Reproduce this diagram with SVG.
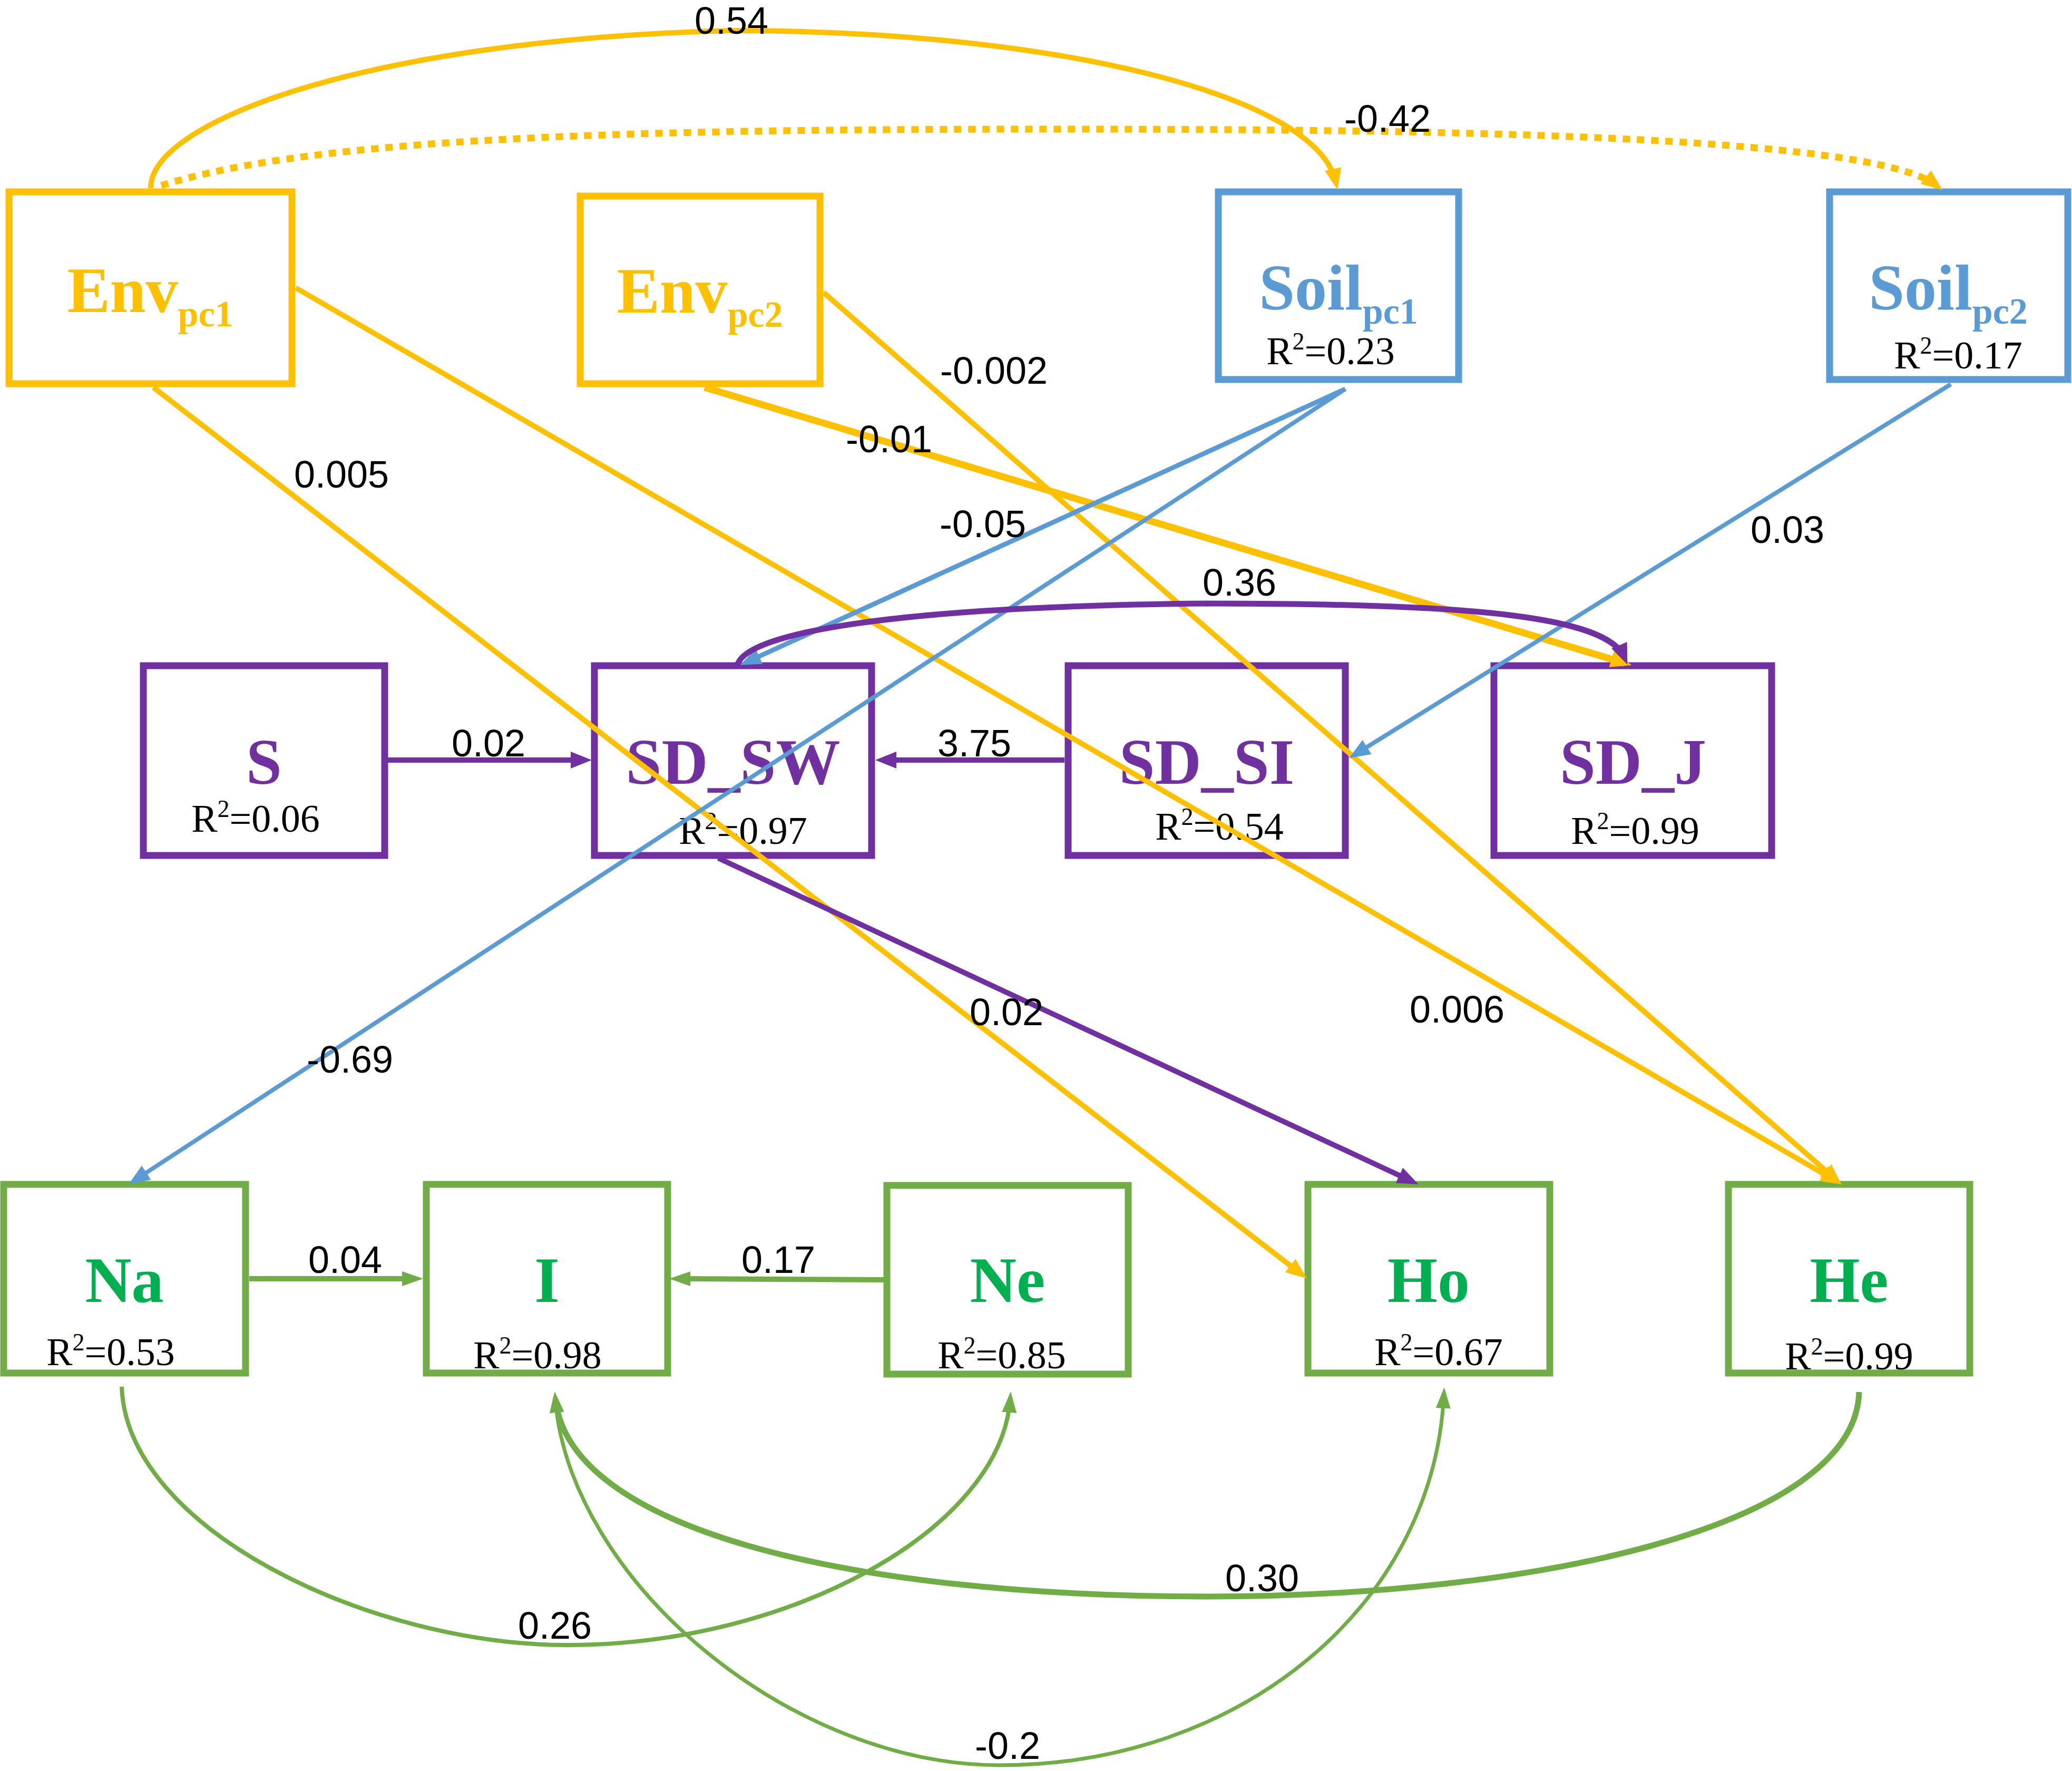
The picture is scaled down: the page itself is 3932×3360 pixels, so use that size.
<svg xmlns="http://www.w3.org/2000/svg" width="3932" height="3360" viewBox="0 0 3932 3360">
<style>
.box{fill:#fff;stroke-width:13}
.y{stroke:#FFC000}.b{stroke:#5B9BD5}.p{stroke:#7030A0}.g{stroke:#70AD47}
.lbl{font-family:"Liberation Serif","Times New Roman",serif;font-weight:bold;font-size:122px;text-anchor:middle}
.r2{font-family:"Liberation Serif","Times New Roman",serif;font-size:74px;fill:#000;text-anchor:middle}
.el{font-family:"Liberation Sans",Arial,sans-serif;font-size:72px;fill:#000;text-anchor:middle}
.c{fill:none}
</style>
<defs>
<marker id="ay" markerUnits="userSpaceOnUse" markerWidth="44" markerHeight="36" refX="26" refY="16" orient="auto"><path d="M0,0 L40,16 L0,32 z" fill="#FFC000"/></marker>
<marker id="ab" markerUnits="userSpaceOnUse" markerWidth="44" markerHeight="36" refX="26" refY="16" orient="auto"><path d="M0,0 L40,16 L0,32 z" fill="#5B9BD5"/></marker>
<marker id="ap" markerUnits="userSpaceOnUse" markerWidth="44" markerHeight="36" refX="26" refY="16" orient="auto"><path d="M0,0 L40,16 L0,32 z" fill="#7030A0"/></marker>
<marker id="ag" markerUnits="userSpaceOnUse" markerWidth="44" markerHeight="32" refX="26" refY="14" orient="auto"><path d="M0,0 L40,14 L0,28 z" fill="#70AD47"/></marker>
</defs>
<rect width="3932" height="3360" fill="#fff"/>

<g id="node-envpc1"><rect class="box y" x="17" y="364" width="537" height="364"/><text class="lbl" fill="#FFC000" x="285" y="592">Env<tspan dy="27" font-size="70">pc1</tspan></text></g>
<g id="node-envpc2"><rect class="box y" x="1101" y="372" width="455" height="356"/><text class="lbl" fill="#FFC000" x="1328" y="593">Env<tspan dy="27" font-size="70">pc2</tspan></text></g>
<g id="node-soilpc1"><rect class="box b" x="2312" y="364" width="456" height="356"/><text class="lbl" fill="#5B9BD5" x="2540" y="587">Soil<tspan dy="27" font-size="70">pc1</tspan></text><text class="r2" x="2525" y="691">R<tspan dy="-28" font-size="46">2</tspan><tspan dy="28">=0.23</tspan></text></g>
<g id="node-soilpc2"><rect class="box b" x="3472" y="364" width="452" height="356"/><text class="lbl" fill="#5B9BD5" x="3697" y="587">Soil<tspan dy="27" font-size="70">pc2</tspan></text><text class="r2" x="3716" y="699">R<tspan dy="-28" font-size="46">2</tspan><tspan dy="28">=0.17</tspan></text></g>

<g id="node-s"><rect class="box p" x="272" y="1263" width="458" height="360"/><text class="lbl" fill="#7030A0" x="501" y="1487">S</text><text class="r2" x="485" y="1578">R<tspan dy="-28" font-size="46">2</tspan><tspan dy="28">=0.06</tspan></text></g>
<g id="node-sdsw"><rect class="box p" x="1128" y="1263" width="526" height="360"/><text class="lbl" fill="#7030A0" x="1391" y="1487">SD_SW</text><text class="r2" x="1410" y="1601">R<tspan dy="-28" font-size="46">2</tspan><tspan dy="28">=0.97</tspan></text></g>
<g id="node-sdsi"><rect class="box p" x="2027" y="1263" width="526" height="360"/><text class="lbl" fill="#7030A0" x="2290" y="1487">SD_SI</text><text class="r2" x="2314" y="1593">R<tspan dy="-28" font-size="46">2</tspan><tspan dy="28">=0.54</tspan></text></g>
<g id="node-sdj"><rect class="box p" x="2835" y="1263" width="527" height="360"/><text class="lbl" fill="#7030A0" x="3099" y="1487">SD_J</text><text class="r2" x="3103" y="1601">R<tspan dy="-28" font-size="46">2</tspan><tspan dy="28">=0.99</tspan></text></g>

<g id="node-na"><rect class="box g" x="7" y="2247" width="459" height="358"/><text class="lbl" fill="#00B050" x="236" y="2470">Na</text><text class="r2" x="210" y="2590">R<tspan dy="-28" font-size="46">2</tspan><tspan dy="28">=0.53</tspan></text></g>
<g id="node-i"><rect class="box g" x="809" y="2247" width="458" height="358"/><text class="lbl" fill="#00B050" x="1038" y="2470">I</text><text class="r2" x="1020" y="2596">R<tspan dy="-28" font-size="46">2</tspan><tspan dy="28">=0.98</tspan></text></g>
<g id="node-ne"><rect class="box g" x="1683" y="2249" width="458" height="358"/><text class="lbl" fill="#00B050" x="1912" y="2470">Ne</text><text class="r2" x="1901" y="2596">R<tspan dy="-28" font-size="46">2</tspan><tspan dy="28">=0.85</tspan></text></g>
<g id="node-ho"><rect class="box g" x="2482" y="2247" width="459" height="358"/><text class="lbl" fill="#00B050" x="2711" y="2470">Ho</text><text class="r2" x="2730" y="2590">R<tspan dy="-28" font-size="46">2</tspan><tspan dy="28">=0.67</tspan></text></g>
<g id="node-he"><rect class="box g" x="3280" y="2247" width="458" height="358"/><text class="lbl" fill="#00B050" x="3509" y="2470">He</text><text class="r2" x="3509" y="2598">R<tspan dy="-28" font-size="46">2</tspan><tspan dy="28">=0.99</tspan></text></g>

<g id="connectors">
<path class="c y" stroke-width="10" marker-end="url(#ay)" d="M286 357 C285 230 700 75 1390 58 C2000 58 2500 180 2535 346"/>
<path class="c y" stroke-width="13" stroke-dasharray="14 13" marker-end="url(#ay)" d="M306 352 C600 260 1200 245 2000 245 C2700 245 3550 255 3675 352"/>
<line class="y" stroke-width="10" marker-end="url(#ay)" x1="291" y1="735" x2="2469" y2="2417"/>
<line class="y" stroke-width="10" marker-end="url(#ay)" x1="561" y1="546" x2="3483" y2="2240"/>
<line class="y" stroke-width="10" marker-end="url(#ay)" x1="1563" y1="555" x2="3484" y2="2238"/>
<line class="y" stroke-width="13" marker-end="url(#ay)" x1="1337" y1="735" x2="3083" y2="1258"/>
<line class="b" stroke-width="9" marker-end="url(#ab)" x1="2553" y1="738" x2="1417" y2="1256"/>
<line class="b" stroke-width="8" marker-end="url(#ab)" x1="2553" y1="738" x2="256" y2="2239"/>
<line class="b" stroke-width="8" marker-end="url(#ab)" x1="3702" y1="729" x2="2572" y2="1431"/>
<line class="p" stroke-width="10" marker-end="url(#ap)" x1="736" y1="1442" x2="1109" y2="1442"/>
<line class="p" stroke-width="10" marker-end="url(#ap)" x1="2020" y1="1442" x2="1675" y2="1442"/>
<path class="c p" stroke-width="11" marker-end="url(#ap)" d="M1400 1260 C1420 1200 1700 1150 2300 1145 C2800 1145 3050 1170 3083 1248"/>
<line class="p" stroke-width="10" marker-end="url(#ap)" x1="1363" y1="1628" x2="2679" y2="2241"/>
<line class="g" stroke-width="10" marker-end="url(#ag)" x1="473" y1="2426" x2="789" y2="2426"/>
<line class="g" stroke-width="10" marker-end="url(#ag)" x1="1677" y1="2428" x2="1284" y2="2426"/>
<path class="c g" stroke-width="8" marker-end="url(#ag)" d="M231 2631 C240 2900 700 3121 1078 3121 C1500 3121 1900 2900 1917 2654"/>
<path class="c g" stroke-width="11" marker-end="url(#ag)" d="M3528 2641 C3520 2900 2900 3029 2295 3029 C1600 3029 1080 2900 1054 2654"/>
<path class="c g" stroke-width="7" marker-end="url(#ag)" d="M1053 2650 C1080 3000 1500 3349 1898 3349 C2350 3349 2720 3050 2740 2646"/>
</g>

<g id="edge-labels">
<text class="el" x="1388" y="64">0.54</text>
<text class="el" x="2633" y="250">-0.42</text>
<text class="el" x="1886" y="728">-0.002</text>
<text class="el" x="1687" y="858">-0.01</text>
<text class="el" x="1865" y="1019">-0.05</text>
<text class="el" x="2352" y="1130">0.36</text>
<text class="el" x="648" y="925">0.005</text>
<text class="el" x="3392" y="1030">0.03</text>
<text class="el" x="927" y="1435">0.02</text>
<text class="el" x="1849" y="1435">3.75</text>
<text class="el" x="1910" y="1945" font-size="64">0.02</text>
<text class="el" x="2765" y="1940">0.006</text>
<text class="el" x="664" y="2035">-0.69</text>
<text class="el" x="655" y="2415">0.04</text>
<text class="el" x="1477" y="2415">0.17</text>
<text class="el" x="1053" y="3109">0.26</text>
<text class="el" x="2395" y="3019">0.30</text>
<text class="el" x="1912" y="3337">-0.2</text>
</g>
</svg>
